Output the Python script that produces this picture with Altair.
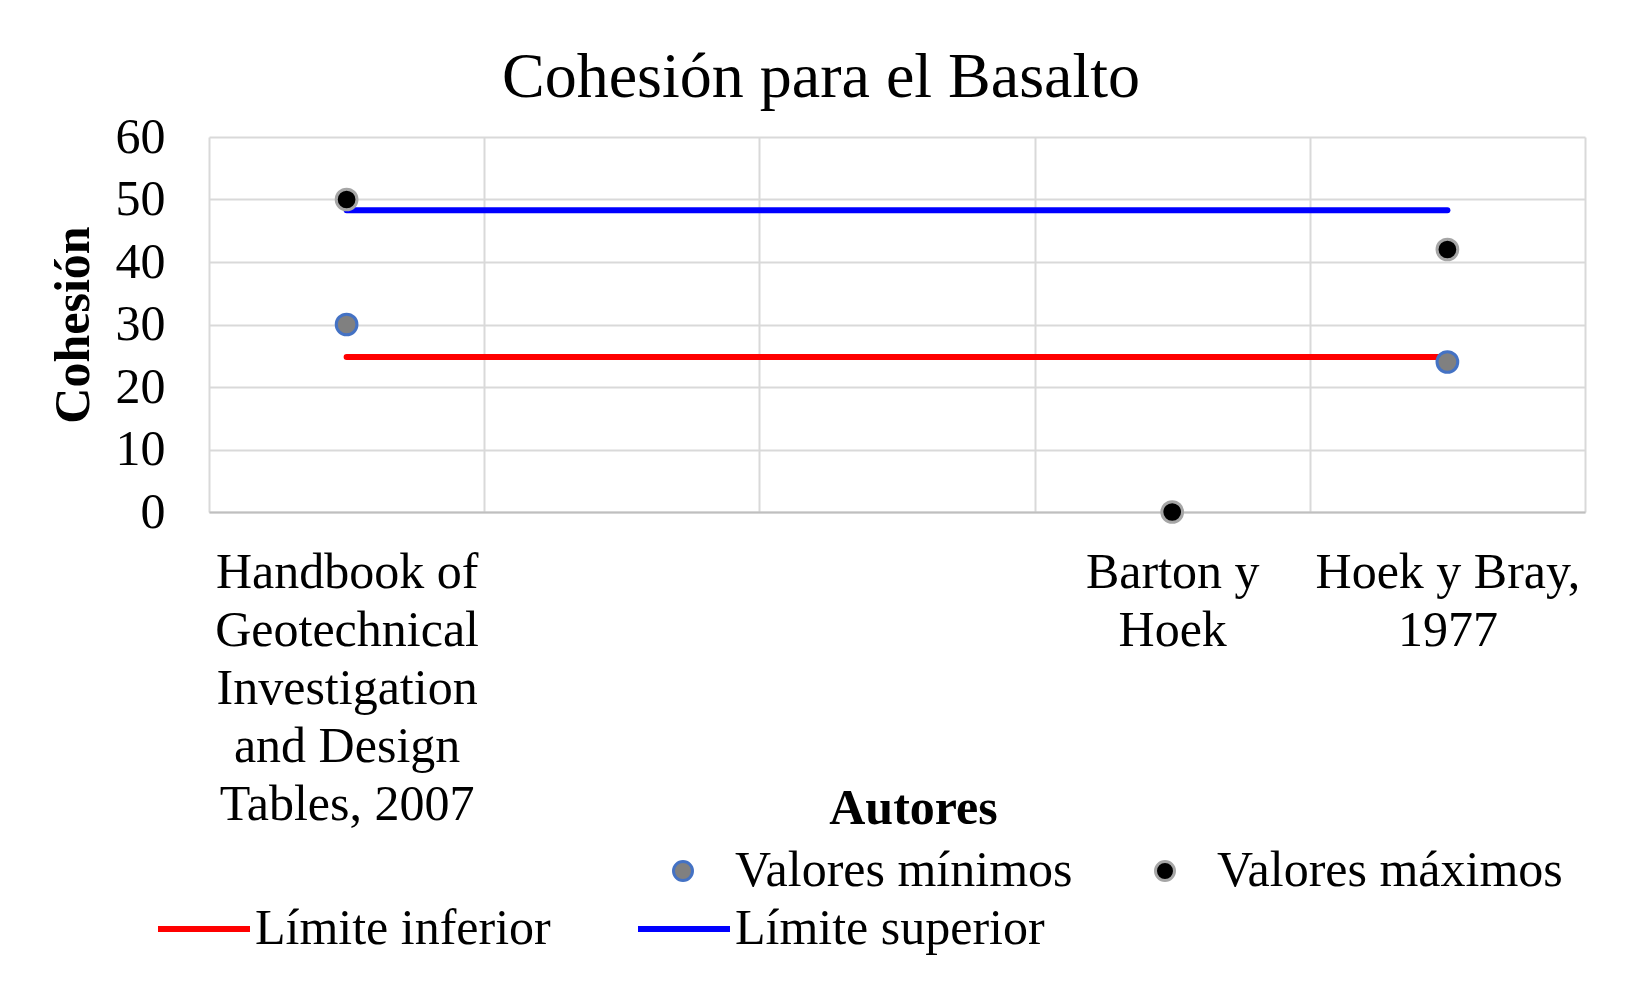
import altair as alt
import pandas as pd

# ---- data ----
autores = [
    "Handbook of|Geotechnical|Investigation|and Design|Tables, 2007",
    " ",
    "  ",
    "Barton y|Hoek",
    "Hoek y Bray,|1977",
]
valores_minimos = [30, None, None, None, 24]
valores_maximos = [50, None, None, 0, 42]
limite_autores = [autores[0], autores[4]]
limite_inferior = [24.8, 24.8]
limite_superior = [48.3, 48.3]

series_puntos = ["Valores mínimos", "Valores máximos"]
series_lineas = ["Límite inferior", "Límite superior"]

FONT = "Liberation Serif"

rows = []
for a, v in zip(autores, valores_minimos):
    if v is not None:
        rows.append({"autor": a, "cohesion": v, "serie": series_puntos[0]})
for a, v in zip(autores, valores_maximos):
    if v is not None:
        rows.append({"autor": a, "cohesion": v, "serie": series_puntos[1]})
puntos = pd.DataFrame(rows)

lrows = []
for a, v in zip(limite_autores, limite_inferior):
    lrows.append({"autor": a, "cohesion": v, "linea": series_lineas[0]})
for a, v in zip(limite_autores, limite_superior):
    lrows.append({"autor": a, "cohesion": v, "linea": series_lineas[1]})
lineas = pd.DataFrame(lrows)

x_enc = alt.X(
    "autor:N",
    scale=alt.Scale(domain=autores),
    sort=autores,
    axis=alt.Axis(
        title="Autores",
        titleFont=FONT,
        titleFontSize=50,
        titleFontWeight="bold",
        titleColor="black",
        titleX=704,
        titleY=296,
        titleAlign="center",
        titleBaseline="middle",
        labelExpr="datum.value ? split(datum.value, '|') : ''",
        labelFont=FONT,
        labelFontSize=50,
        labelColor="black",
        labelLineHeight=58,
        labelPadding=35,
        labelAngle=0,
        labelLimit=400,
        labelOverlap=False,
        ticks=False,
        tickBand="extent",
        grid=True,
        gridColor="#D9D9D9",
        gridWidth=2,
        domainColor="#BFBFBF",
        domainWidth=2,
    ),
)

y_enc = alt.Y(
    "cohesion:Q",
    scale=alt.Scale(domain=[0, 60], nice=False),
    axis=alt.Axis(
        title="Cohesión",
        titleFont=FONT,
        titleFontSize=50,
        titleFontWeight="bold",
        titleColor="black",
        titlePadding=17,
        values=[0, 10, 20, 30, 40, 50, 60],
        labelFont=FONT,
        labelFontSize=50,
        labelColor="black",
        labelPadding=44,
        ticks=False,
        domain=False,
        grid=True,
        gridColor="#D9D9D9",
        gridWidth=2,
    ),
)

lines = alt.Chart(lineas).mark_line(strokeWidth=6, strokeCap="round").encode(
    x=x_enc,
    y=y_enc,
    color=alt.Color(
        "linea:N",
        scale=alt.Scale(domain=series_lineas, range=["#FF0000", "#0000FF"]),
        legend=alt.Legend(
            title=None,
            orient="none",
            legendX=-54,
            legendY=743,
            direction="horizontal",
            columns=2,
            symbolType="stroke",
            symbolSize=8464,
            symbolStrokeWidth=6,
            labelOffset=2,
            columnPadding=75,
            labelFont=FONT,
            labelFontSize=50,
            labelColor="black",
            labelLimit=600,
            padding=0,
        ),
    ),
)

leg_pts = dict(
    title=None,
    orient="none",
    legendX=449,
    legendY=709,
    direction="horizontal",
    columns=2,
    symbolType="circle",
    symbolSize=360,
    symbolStrokeWidth=3,
    labelOffset=27,
    columnPadding=67,
    labelFont=FONT,
    labelFontSize=50,
    labelColor="black",
    labelLimit=600,
    padding=0,
)

points = alt.Chart(puntos).mark_circle(size=430, opacity=1, strokeWidth=3).encode(
    x=x_enc,
    y=y_enc,
    fill=alt.Fill(
        "serie:N",
        scale=alt.Scale(domain=series_puntos, range=["#808080", "#000000"]),
        legend=alt.Legend(**leg_pts),
    ),
    stroke=alt.Stroke(
        "serie:N",
        scale=alt.Scale(domain=series_puntos, range=["#4472C4", "#A6A6A6"]),
        legend=alt.Legend(**leg_pts),
    ),
)

chart = (
    alt.layer(lines, points)
    .properties(
        width=1376,
        height=375,
        title=alt.Title(
            "Cohesión para el Basalto",
            font=FONT,
            fontSize=64,
            fontWeight="normal",
            color="black",
            anchor="middle",
            baseline="alphabetic",
            dx=-76,
            dy=76,
            offset=27,
        ),
        padding={"left": 209, "top": 137, "right": 60, "bottom": 471},
        autosize=alt.AutoSizeParams(type="none"),
        background="white",
    )
    .configure_view(stroke="transparent")
)

chart.save("out.html", embed_options={"renderer": "svg", "actions": False})
